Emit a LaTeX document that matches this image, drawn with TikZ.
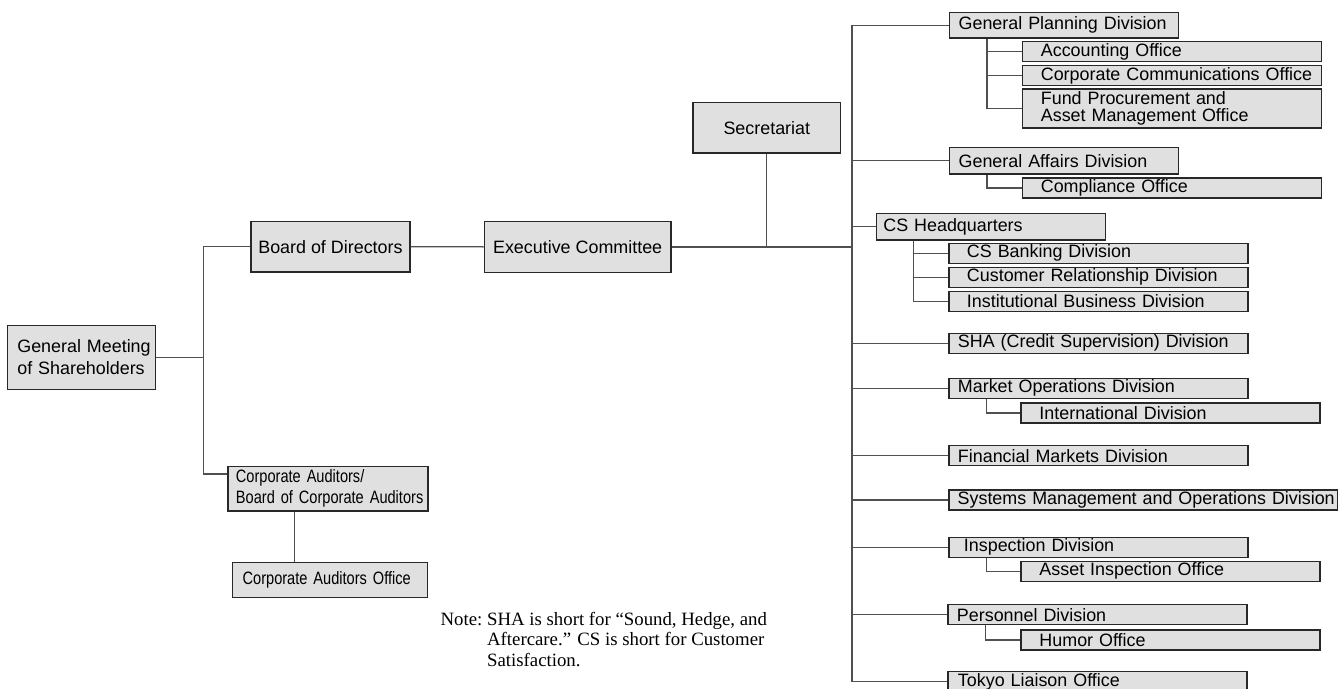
\documentclass[tikz,border=0pt]{standalone}
\usepackage{fontspec}
\setmainfont{Liberation Serif}
\setsansfont{Liberation Sans}
\newfontfamily\narrowsans[FakeStretch=0.815]{Liberation Sans}
\usetikzlibrary{calc,positioning}

\definecolor{boxgray}{RGB}{224,224,224}
\definecolor{linegray}{RGB}{80,80,80}
\definecolor{rimgray}{RGB}{40,40,40}

\begin{document}
\begin{tikzpicture}[x=1pt,y=-1pt,line width=1.3pt,
  unit/.style={draw=rimgray,fill=boxgray,anchor=north west,inner sep=0pt,align=left,
    font=\sffamily\fontsize{17.9}{20.7}\selectfont},
  pad/.style={execute at begin node={\leftskip=#1\relax}},
  div/.style={unit,text width=299pt,minimum height=20pt,pad=9pt},
  office/.style={unit,text width=299pt,minimum height=20pt,pad=18.5pt},
  link/.style={draw=linegray}]

  \useasboundingbox (0,0) rectangle (1338,688);

  % governance side
  \node[unit,text width=148pt,minimum height=64pt,pad=10pt,
    font=\sffamily\fontsize{17.9}{21.7}\selectfont] (gm) at (6.7,324.7) {General Meeting\\of Shareholders};
  \node[unit,minimum width=159pt,minimum height=50.6pt] (bod) at (250.3,220.7) {Board of Directors};
  \node[unit,minimum width=186.6pt,minimum height=51pt] (exec) at (483.7,220.7) {Executive Committee};
  \node[unit,minimum width=147.7pt,minimum height=50.6pt] (sec) at (692.3,101.7) {Secretariat};
  \node[unit,text width=200pt,minimum height=44.6pt,pad=8pt,
    font=\narrowsans\fontsize{17.9}{20.7}\selectfont] (ca) at (227.3,465.7) {Corporate Auditors/\\Board of Corporate Auditors};
  \node[unit,text width=194.7pt,minimum height=35.3pt,pad=10pt,
    font=\narrowsans\fontsize{17.9}{20.7}\selectfont] (cao) at (232,561.7) {Corporate Auditors Office};

  % divisions
  \node[div,text width=229pt,minimum height=25.6pt] (gpd) at (949,11.7) {General Planning Division};
  \node[office] (acc) at (1021.7,41) {Accounting Office};
  \node[office] (cco) at (1021.7,65) {Corporate Communications Office};
  \node[office,minimum height=39pt,font=\sffamily\fontsize{17.9}{17.7}\selectfont] (fund) at (1021.7,88.3) {Fund Procurement and\\Asset Management Office};
  \node[div,text width=229pt,minimum height=26.6pt] (gad) at (949,146.7) {General Affairs Division};
  \node[office] (comp) at (1021.7,177.3) {Compliance Office};
  \node[div,text width=229.3pt,minimum height=26.6pt,pad=7pt] (cshq) at (875.7,212.7) {CS Headquarters};
  \node[div,pad=18pt] (csb) at (948.3,242.7) {CS Banking Division};
  \node[div,pad=18pt] (crd) at (948.3,266.7) {Customer Relationship Division};
  \node[div,pad=18pt] (ibd) at (948.3,290.7) {Institutional Business Division};
  \node[div] (sha) at (948.3,332.7) {SHA (Credit Supervision) Division};
  \node[div] (mod) at (948.3,377.7) {Market Operations Division};
  \node[office] (intl) at (1020.3,402.3) {International Division};
  \node[div] (fmd) at (948.3,445) {Financial Markets Division};
  \node[div,text width=388.7pt,pad=8.7pt] (smod) at (948.3,489.3) {Systems Management and Operations Division};
  \node[div,pad=15pt] (insp) at (948.3,536.7) {Inspection Division};
  \node[office] (aio) at (1020.3,560.7) {Asset Inspection Office};
  \node[div] (pers) at (947.3,604) {Personnel Division};
  \node[office] (humor) at (1020.3,629.3) {Humor Office};
  \node[div,pad=10pt] (tlo) at (947.3,671) {Tokyo Liaison Office};

  % connectors, left
  \coordinate (spine) at (203.7,0);
  \coordinate (catap) at ([yshift=-8.3pt]ca.north west);
  \draw[link] (gm.east) -- (gm.east -| spine);
  \draw[link] (bod.west) -| (spine |- catap) -- (catap);
  \draw[link] (bod.east) -- (exec.west);
  \path (ca.south west) ++(67,0) coordinate (cadrop);
  \draw[link] (cadrop) -- (cadrop |- cao.north);

  % connectors, right
  \coordinate (trunk) at (852,0);
  \draw[link] (exec.east) -- (exec.east -| trunk);
  \draw[link] (sec.south) -- (sec.south |- exec.east);
  \draw[link] (gpd.west -| trunk) -- (tlo.west -| trunk);
  \foreach \n in {gpd,gad,cshq,sha,mod,fmd,smod,insp,pers,tlo}
    \draw[link] (\n.west -| trunk) -- (\n.west);
  \foreach \p/\c in {gpd/acc,gpd/cco,gpd/fund,gad/comp,cshq/csb,cshq/crd,cshq/ibd,mod/intl,insp/aio,pers/humor}
    \draw[link] ([xshift=38pt]\p.south west) |- (\c.west);

  % note
  \node[anchor=base west,inner sep=0pt,font=\rmfamily\fontsize{18.8}{20.8}\selectfont] (note) at (440,625)
    {\begin{tabular}[t]{@{}l@{\ }l@{}}Note: & SHA is short for “Sound, Hedge, and\\
      & Aftercare.” CS is short for Customer\\
      & Satisfaction.\end{tabular}};
\end{tikzpicture}
\end{document}
